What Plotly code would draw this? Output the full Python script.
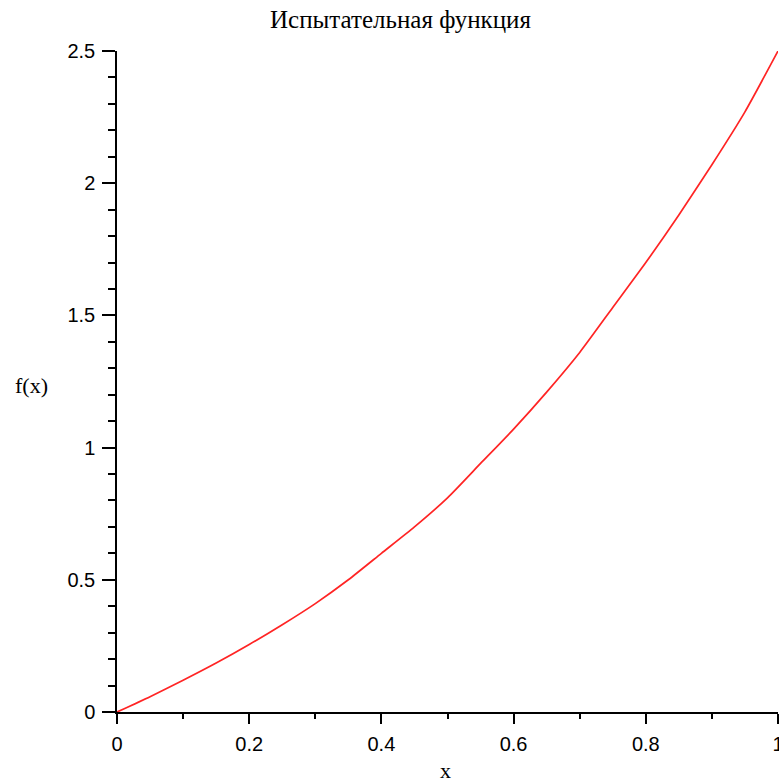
import plotly.graph_objects as go

x_vals = [0.0, 0.05, 0.10, 0.15, 0.20, 0.25, 0.30, 0.35, 0.40, 0.45, 0.50,
          0.55, 0.60, 0.65, 0.70, 0.75, 0.80, 0.85, 0.90, 0.95, 1.0]
f_vals = [0.0, 0.058, 0.12, 0.185, 0.255, 0.33, 0.41, 0.50, 0.60, 0.70, 0.81,
          0.94, 1.07, 1.21, 1.36, 1.53, 1.70, 1.88, 2.07, 2.27, 2.50]

x_ticks = [0, 0.2, 0.4, 0.6, 0.8, 1]
x_tick_labels = ["0", "0.2", "0.4", "0.6", "0.8", "1"]
y_ticks = [0, 0.5, 1, 1.5, 2, 2.5]
y_tick_labels = ["0", "0.5", "1", "1.5", "2", "2.5"]

title_text = "Испытательная функция"
x_label = "x"
y_label = "f(x)"

fig = go.Figure()
fig.add_trace(go.Scatter(x=x_vals, y=f_vals, mode="lines",
                         line=dict(color="#ff2424", width=1.7, shape="spline", smoothing=0.6),
                         showlegend=False, hoverinfo="skip"))

tick_font = dict(family="Liberation Sans, Arial, sans-serif", size=20, color="black")
serif = "Liberation Serif, Times New Roman, serif"

fig.update_layout(
    width=779, height=783,
    margin=dict(l=117, r=1, t=51, b=71, autoexpand=False),
    paper_bgcolor="white", plot_bgcolor="white",
    showlegend=False,
    xaxis=dict(range=[0, 1], tickvals=x_ticks, ticktext=x_tick_labels,
               showgrid=False, zeroline=False, showline=True, linecolor="black", linewidth=1.5,
               ticks="outside", ticklen=10, tickwidth=1.5, tickcolor="black",
               tickfont=tick_font, ticklabelstandoff=3, ticklabeloverflow="allow",
               automargin=False,
               minor=dict(tickvals=[0.1, 0.3, 0.5, 0.7, 0.9], ticks="outside",
                          ticklen=5, tickwidth=1.5, tickcolor="black", showgrid=False)),
    yaxis=dict(range=[0, 2.5], tickvals=y_ticks, ticktext=y_tick_labels,
               showgrid=False, zeroline=False, showline=True, linecolor="black", linewidth=1.5,
               ticks="outside", ticklen=13, tickwidth=1.5, tickcolor="black",
               tickfont=tick_font, ticklabelstandoff=3, ticklabeloverflow="allow",
               automargin=False,
               minor=dict(dtick=0.1, ticks="outside", ticklen=7, tickwidth=1.5,
                          tickcolor="black", showgrid=False)),
    annotations=[
        dict(text=title_text, xref="paper", yref="paper", x=(400 - 117) / 661, y=1 + (51 - 20) / 661,
             xanchor="center", yanchor="middle", showarrow=False,
             font=dict(family=serif, size=25, color="black")),
        dict(text=y_label, xref="paper", yref="paper", x=(31 - 117) / 661, y=(712 - 385) / 661,
             xanchor="center", yanchor="middle", showarrow=False,
             font=dict(family=serif, size=22, color="black")),
        dict(text=x_label, xref="paper", yref="paper", x=(445 - 117) / 661, y=-(770 - 712) / 661,
             xanchor="center", yanchor="middle", showarrow=False,
             font=dict(family=serif, size=22, color="black")),
    ],
)

fig.write_html("out.html", config={"displayModeBar": False},
               post_script="document.body.style.margin='0';document.body.style.overflow='hidden';")
